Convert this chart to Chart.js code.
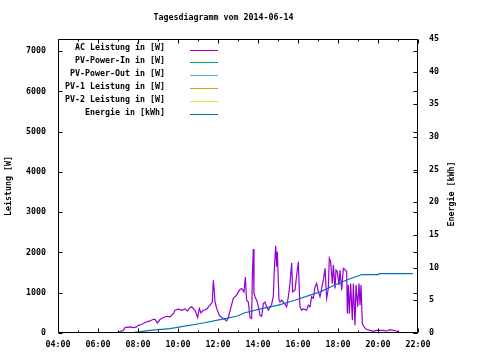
<!DOCTYPE html>
<html><head><meta charset="utf-8">
<script src="https://cdn.jsdelivr.net/npm/chart.js@4"></script>
<style>html,body{margin:0;padding:0;background:#fff}#wrap{width:480px;height:360px}</style>
</head><body><div id="wrap"><canvas id="c" width="480" height="360"></canvas></div>
<script>
const chartTitle = 'Tagesdiagramm vom 2014-06-14';
const leftAxisTitle = 'Leistung [W]';
const rightAxisTitle = 'Energie [kWh]';
const seriesLabels = ['AC Leistung in [W]','PV-Power-In in [W]','PV-Power-Out in [W]','PV-1 Leistung in [W]','PV-2 Leistung in [W]','Energie in [kWh]'];
const seriesColors = ['#9400D3','#009E73','#56B4E9','#E69F00','#F0E442','#0072B2'];
const xTickLabels = ['04:00','06:00','08:00','10:00','12:00','14:00','16:00','18:00','20:00','22:00'];
const leftTicks = [0,1000,2000,3000,4000,5000,6000,7000];
const rightTicks = [0,5,10,15,20,25,30,35,40,45];

const acTimes = ['06:00','07:03','07:06','07:16','07:21','07:36','07:46','07:56','08:01','08:11','08:21','08:36','08:46','08:51','08:58','09:06','09:16','09:26','09:36','09:46','09:51','10:01','10:11','10:21','10:28','10:36','10:41','10:51','10:59','11:04','11:09','11:16','11:26','11:36','11:43','11:46','11:49','11:51','11:56','12:04','12:11','12:21','12:26','12:31','12:38','12:46','12:56','13:04','13:06','13:11','13:18','13:22','13:26','13:31','13:36','13:41','13:43','13:46','13:48','13:53','13:58','14:01','14:06','14:11','14:16','14:21','14:26','14:31','14:41','14:46','14:49','14:53','14:56','14:58','15:03','15:06','15:11','15:21','15:26','15:31','15:36','15:41','15:44','15:51','15:56','16:01','16:04','16:06','16:11','16:16','16:26','16:31','16:36','16:41','16:46','16:51','16:56','17:01','17:06','17:11','17:16','17:21','17:26','17:31','17:34','17:38','17:43','17:46','17:51','17:54','17:58','18:03','18:06','18:11','18:16','18:21','18:26','18:28','18:31','18:34','18:38','18:43','18:46','18:51','18:54','18:59','19:03','19:06','19:09','19:13','19:18','19:26','19:36','19:46','19:56','20:16','20:26','20:36','20:46','20:56','21:06','21:11'];
const acWatts = [0,0,40,65,135,150,135,150,190,210,260,300,340,340,250,335,385,415,400,480,565,590,565,600,550,630,650,565,385,610,500,565,590,690,770,1310,1020,770,610,440,385,335,300,385,610,860,940,1065,1080,1105,1020,1390,815,770,385,360,1395,2085,980,860,770,650,440,415,730,770,650,565,715,915,1580,2160,1645,2020,815,770,815,715,650,900,1230,1745,1020,1065,1440,1770,1020,650,565,600,565,690,650,900,860,1145,1230,1020,900,1105,1310,1605,860,1105,1855,1770,1230,1685,1105,1560,1520,1190,1560,1065,1605,1580,1520,480,1190,480,1230,315,1230,190,1190,650,1230,690,1190,235,150,85,65,40,65,65,50,85,65,50,0,0];

const pvInTimes = [], pvInWatts = [];
const pvOutTimes = [], pvOutWatts = [];
const pv1Times = [], pv1Watts = [];
const pv2Times = [], pv2Watts = [];

const energyTimes = ['07:34','08:36','09:36','11:16','12:06','12:56','13:21','14:11','14:58','15:51','16:41','17:06','17:36','18:06','18:36','19:06','19:11','20:01','20:04','21:44'];
const energyKWh = [0,0.4,0.67,1.53,2.05,2.56,3.1,3.74,4.24,5.01,5.88,6.3,7.0,7.7,8.3,8.84,8.95,8.95,9.1,9.1];

function toMin(t){const p=t.split(':');return (+p[0])*60+(+p[1]);}
function pts(times, vals){return times.map((t,i)=>({x:toMin(t), y:vals[i]}));}
const xTickMinutes = xTickLabels.map(toMin);

const FONT = {family:"'DejaVu Sans Mono', monospace", size:8.3, weight:'bold'};
const fontStr = "bold 8.3px 'DejaVu Sans Mono', monospace";

const deco = {
  id:'deco',
  afterDraw(chart){
    const ctx = chart.ctx, a = chart.chartArea;
    const xs = chart.scales.x, ys = chart.scales.y, y2 = chart.scales.y1;
    const L = Math.round(a.left)+0.5, R = Math.round(a.right)-0.5, T = Math.round(a.top)+0.5, B = Math.round(a.bottom)-0.5;
    ctx.save();
    ctx.strokeStyle = '#000'; ctx.lineWidth = 1;
    ctx.beginPath();
    ctx.rect(L, T, R-L, B-T);
    for (let m = xs.min; m <= xs.max; m += 60) {
      const px = Math.round(xs.getPixelForValue(m)) + 0.5;
      const len = xTickMinutes.includes(m) ? 4 : 2;
      ctx.moveTo(px, B); ctx.lineTo(px, B-len);
      ctx.moveTo(px, T); ctx.lineTo(px, T+len);
    }
    ys.ticks.forEach(t => {
      const py = Math.round(ys.getPixelForValue(t.value)) + 0.5;
      ctx.moveTo(L, py); ctx.lineTo(L+4, py);
      ctx.moveTo(R, py); ctx.lineTo(R-4, py);
    });
    y2.ticks.forEach(t => {
      const py = Math.round(y2.getPixelForValue(t.value)) + 0.5;
      ctx.moveTo(R, py); ctx.lineTo(R-4, py);
    });
    ctx.stroke();
    ctx.fillStyle = '#000';
    ctx.font = fontStr;
    ctx.textAlign = 'center'; ctx.textBaseline = 'middle';
    ctx.fillText(chartTitle, 223.5, 18);
    ctx.save();
    ctx.translate(452, 194);
    ctx.rotate(-Math.PI/2);
    ctx.fillText(rightAxisTitle, 0, 0);
    ctx.restore();
    chart.data.datasets.forEach((ds, i) => {
      const ry = 49.5 + i*12.9;
      ctx.textAlign = 'right'; ctx.textBaseline = 'middle';
      ctx.fillStyle = '#000';
      ctx.fillText(ds.label, 165, ry - 1.5);
      ctx.strokeStyle = ds.borderColor;
      ctx.beginPath();
      ctx.moveTo(190, Math.round(ry)+0.5); ctx.lineTo(218, Math.round(ry)+0.5);
      ctx.stroke();
    });
    ctx.restore();
  }
};

const allSeries = [
  pts(acTimes, acWatts), pts(pvInTimes, pvInWatts), pts(pvOutTimes, pvOutWatts),
  pts(pv1Times, pv1Watts), pts(pv2Times, pv2Watts), pts(energyTimes, energyKWh)
];

new Chart(document.getElementById('c'), {
  type:'line',
  data:{
    datasets: allSeries.map((d,i)=>({
      label: seriesLabels[i], data: d,
      borderColor: seriesColors[i], backgroundColor: seriesColors[i],
      borderWidth: 1.2, pointRadius: 0, tension: 0, fill: false,
      yAxisID: i === 5 ? 'y1' : 'y', order: i === 5 ? 0 : 1
    }))
  },
  options:{
    responsive:false, animation:false, devicePixelRatio:1,
    layout:{padding:{top:39,left:0,right:0,bottom:0}},
    plugins:{legend:{display:false}, tooltip:{enabled:false}, title:{display:false}},
    scales:{
      x:{type:'linear', min:240, max:1320,
         afterBuildTicks:s=>{s.ticks = xTickMinutes.map(v=>({value:v}));},
         ticks:{callback:(v)=>xTickLabels[xTickMinutes.indexOf(v)] ?? '', font:FONT, color:'#000', padding:7, maxRotation:0, autoSkip:false},
         grid:{display:false, drawTicks:false}, border:{display:false},
         afterFit:s=>{s.height = 27;}},
      y:{position:'left', min:0, max:7300,
         afterBuildTicks:s=>{s.ticks = leftTicks.map(v=>({value:v}));},
         ticks:{font:FONT, color:'#000', padding:12, callback:v=>String(v)},
         grid:{display:false, drawTicks:false}, border:{display:false},
         title:{display:true, text:leftAxisTitle, font:FONT, color:'#000', padding:{top:4,bottom:0}},
         afterFit:s=>{s.width = 58;}},
      y1:{position:'right', min:0, max:45,
         afterBuildTicks:s=>{s.ticks = rightTicks.map(v=>({value:v}));},
         ticks:{font:FONT, color:'#000', padding:11, callback:v=>String(v)},
         grid:{display:false, drawTicks:false}, border:{display:false},
         afterFit:s=>{s.width = 62;}}
    }
  },
  plugins:[deco]
});
</script></body></html>
